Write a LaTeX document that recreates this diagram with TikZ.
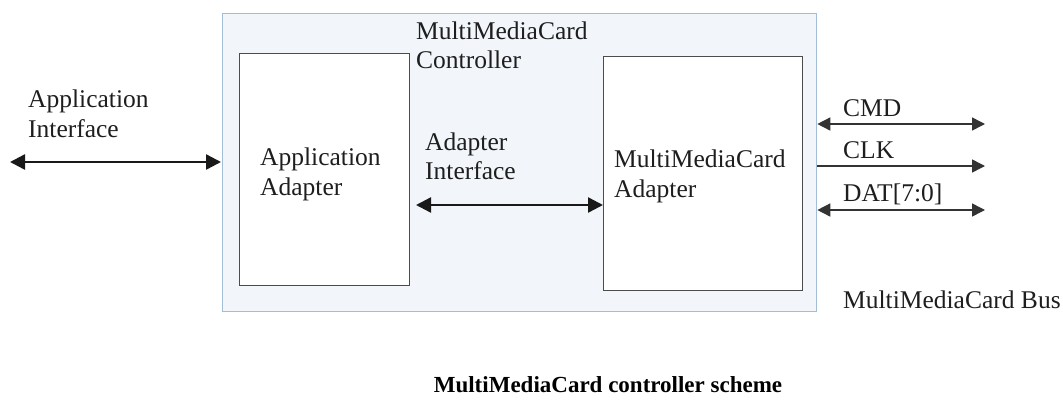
\documentclass[tikz,border=0pt]{standalone}
\usepackage{fontspec}
\setmainfont{Liberation Serif}
\usetikzlibrary{arrows.meta}
\definecolor{outerfill}{HTML}{F2F6FA}
\definecolor{outerdraw}{HTML}{A4BDD6}
\definecolor{txt}{HTML}{1E1E1E}
\begin{document}
\begin{tikzpicture}[x=1pt,y=-1pt,
  lbl/.style={anchor=base west,inner sep=0pt,text=txt,font=\fontsize{25.5}{30}\selectfont},
  blk/.style={draw=black!70,line width=1pt,fill=white},
  bus/.style={line width=1.5pt,draw=black!80},
  tip/.style={-{Triangle[length=13pt,width=13pt]}},
  tips/.style={{Triangle[length=13pt,width=13pt]}-{Triangle[length=13pt,width=13pt]}},
  bigtips/.style={{Triangle[length=15pt,width=15pt]}-{Triangle[length=15pt,width=15pt]}}]
\useasboundingbox (0,0) rectangle (1063,416);
% outer controller box
\node[draw=outerdraw,fill=outerfill,line width=1.3pt,minimum width=594pt,minimum height=298pt,anchor=north west,inner sep=0pt] (ctrl) at (222,13) {};
% inner blocks
\node[blk,minimum width=170pt,minimum height=232pt,anchor=north west,inner sep=0pt] (app) at (239,53) {};
\node[blk,minimum width=199pt,minimum height=234pt,anchor=north west,inner sep=0pt] (mmc) at (603,56) {};
% texts
\node[lbl] (t1) at (416,39) {MultiMediaCard};
\node[lbl] (t2) at (416,68) {Controller};
\node[lbl] (ai1) at (28,107) {Application};
\node[lbl] (ai2) at (28,137) {Interface};
\node[lbl] (aa1) at (260,165) {Application};
\node[lbl] (aa2) at (260,195) {Adapter};
\node[lbl] (ad1) at (425,150) {Adapter};
\node[lbl] (ad2) at (425,179) {Interface};
\node[lbl] (ma1) at (614,167) {MultiMediaCard};
\node[lbl] (ma2) at (614,197) {Adapter};
\node[lbl] (cmd) at (843,116) {CMD};
\node[lbl] (clk) at (843,158) {CLK};
\node[lbl] (dat) at (843,201) {DAT[7:0]};
\node[lbl] (busl) at (843,308) {MultiMediaCard Bus};
\node[anchor=base,inner sep=0pt,text=black,font=\fontsize{23}{26}\selectfont\bfseries] (cap) at (608,392) {MultiMediaCard controller scheme};
% coordinates for arrows
\coordinate (ail) at (10,162);
\coordinate (air) at (app.west |- 0,162);
\coordinate (adl) at (app.east |- 0,205);
\coordinate (adr) at (mmc.west |- 0,205);
\coordinate (c1) at (ctrl.east |- 0,124);
\coordinate (c2) at (985,124);
\coordinate (k1) at (ctrl.east |- 0,166);
\coordinate (k2) at (985,166);
\coordinate (d1) at (ctrl.east |- 0,210);
\coordinate (d2) at (985,210);
% arrows
\draw[bus,bigtips,line width=2.4pt,draw=black!90] (ail) -- ([xshift=-18pt]air);
\draw[bus,bigtips,line width=2.4pt,draw=black!90] ([xshift=6pt]adl) -- (adr);
\draw[bus,tips] (c1) -- (c2);
\draw[bus,tip] (k1) -- (k2);
\draw[bus,tips] (d1) -- (d2);
\end{tikzpicture}
\end{document}
